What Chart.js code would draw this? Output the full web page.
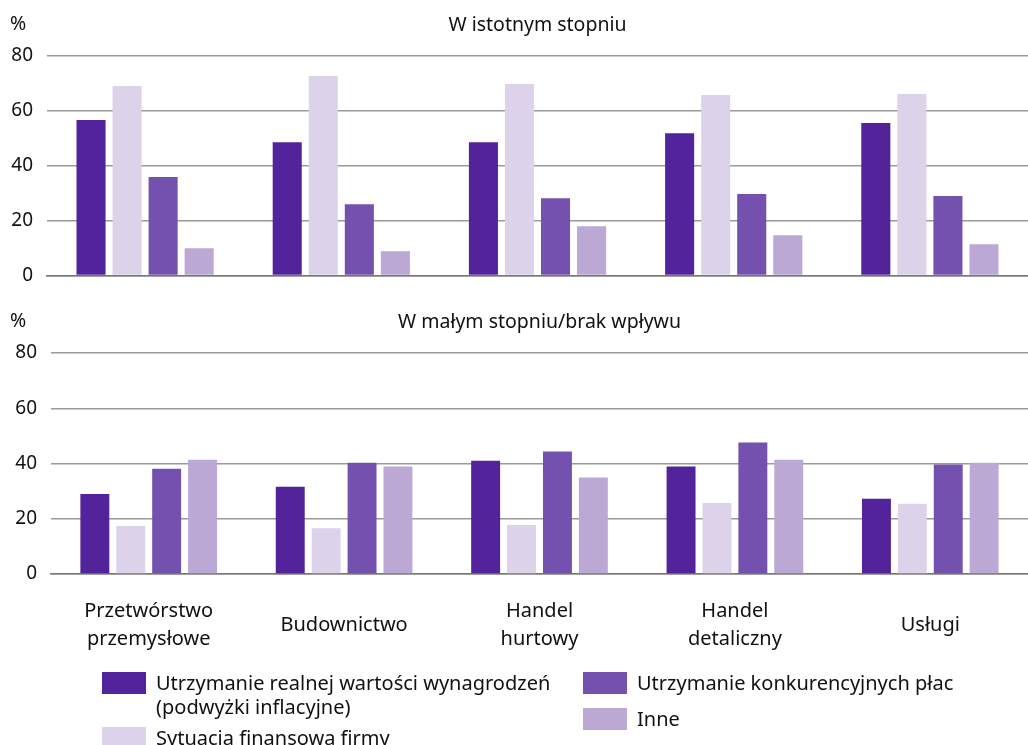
<!DOCTYPE html>
<html>
<head>
<meta charset="utf-8">
<script src="https://cdn.jsdelivr.net/npm/chart.js@4"></script>
<style>
  body { margin: 0; background: #fff; width: 1028px; height: 745px; overflow: hidden; position: relative; }
  #top { position: absolute; left: 0; top: 0; width: 1028px; height: 301px; }
  #bottom { position: absolute; left: 0; top: 290px; width: 1028px; height: 406px; }
  #legend { position: absolute; left: 102px; top: 672px; font-family: "Noto Sans", sans-serif; font-size: 20px; color: #111; }
  .item { position: absolute; white-space: nowrap; line-height: 24px; }
  .box { position: absolute; left: 0; top: 0; width: 44px; height: 22px; }
  .txt { position: absolute; left: 54px; top: -1px; }
</style>
</head>
<body>
<div id="top"><canvas id="c1"></canvas></div>
<div id="bottom"><canvas id="c2"></canvas></div>
<div id="legend"></div>
<script>
const categories = [
  ["Przetwórstwo", "przemysłowe"],
  "Budownictwo",
  ["Handel", "hurtowy"],
  ["Handel", "detaliczny"],
  "Usługi"
];
const seriesNames = [
  "Utrzymanie realnej wartości wynagrodzeń\n(podwyżki inflacyjne)",
  "Sytuacja finansowa firmy",
  "Utrzymanie konkurencyjnych płac",
  "Inne"
];
const colors = ["#52239a", "#dcd3ea", "#7451ae", "#bba8d5"];

// W istotnym stopniu
const sigRealWages = [56.7, 48.6, 48.6, 51.9, 55.6];
const sigFinancial = [69.1, 72.7, 69.8, 65.8, 66.2];
const sigCompetitive = [35.9, 26.0, 28.2, 29.7, 29.0];
const sigOther = [10.0, 8.9, 18.0, 14.7, 11.4];

// W małym stopniu/brak wpływu
const lowRealWages = [29.0, 31.6, 41.0, 38.9, 27.2];
const lowFinancial = [17.4, 16.6, 17.7, 25.7, 25.4];
const lowCompetitive = [38.1, 40.3, 44.3, 47.6, 39.6];
const lowOther = [41.4, 38.9, 34.9, 41.4, 40.3];

const yTicks = [0, 20, 40, 60, 80];

const tickFont = { family: "Noto Sans", size: 19 };
const labelFont = { family: "Noto Sans", size: 20 };

function datasets(arrs) {
  return arrs.map((d, i) => ({
    label: seriesNames[i],
    data: d,
    backgroundColor: colors[i],
    barPercentage: 0.806,
    categoryPercentage: 0.735
  }));
}

function textPlugin(title) {
  return {
    id: "texts",
    afterDraw(chart) {
      const ctx = chart.ctx, a = chart.chartArea;
      ctx.save();
      ctx.fillStyle = "#111";
      ctx.font = "19.5px 'Noto Sans'";
      ctx.textBaseline = "middle";
      ctx.textAlign = "center";
      ctx.fillText(title, (a.left + a.right) / 2, a.top - 31);
      ctx.textAlign = "left";
      ctx.fillText("%", 10, a.top - 32);
      ctx.restore();
    }
  };
}

function makeChart(id, arrs, title, opts) {
  return new Chart(document.getElementById(id), {
    type: "bar",
    data: { labels: categories, datasets: datasets(arrs) },
    options: {
      responsive: true,
      maintainAspectRatio: false,
      animation: false,
      layout: { padding: { top: opts.top, right: 0, bottom: 0, left: 0 } },
      plugins: { legend: { display: false }, tooltip: { enabled: false } },
      scales: {
        x: {
          grid: { display: false },
          border: { color: "#777", width: 1.5 },
          ticks: {
            display: opts.showLabels,
            color: "#111",
            font: Object.assign({ lineHeight: 1.4 }, labelFont),
            padding: 29,
            crossAlign: "center",
            maxRotation: 0,
            autoSkip: false
          }
        },
        y: {
          min: 0,
          max: 80,
          afterBuildTicks: axis => (axis.ticks = yTicks.map(value => ({ value }))),
          afterFit: s => (s.width = opts.yWidth),
          grid: { color: "#9a9a9a", lineWidth: 1.5, drawTicks: false },
          border: { display: false },
          ticks: { color: "#111", font: tickFont, padding: 14 }
        }
      }
    },
    plugins: [textPlugin(title)]
  });
}

makeChart("c1", [sigRealWages, sigFinancial, sigCompetitive, sigOther], "W istotnym stopniu",
  { top: 56, yWidth: 47, showLabels: false });
makeChart("c2", [lowRealWages, lowFinancial, lowCompetitive, lowOther], "W małym stopniu/brak wpływu",
  { top: 63, yWidth: 51, showLabels: true });

// legend: two columns, column-major
const legend = document.getElementById("legend");
const pos = [[0, 0], [0, 55], [481, 0], [481, 36]];
seriesNames.forEach((name, i) => {
  const it = document.createElement("div");
  it.className = "item";
  it.style.left = pos[i][0] + "px";
  it.style.top = pos[i][1] + "px";
  it.innerHTML = '<div class="box" style="background:' + colors[i] + '"></div><div class="txt">' +
    name.replace("\n", "<br>") + "</div>";
  legend.appendChild(it);
});
</script>
</body>
</html>
